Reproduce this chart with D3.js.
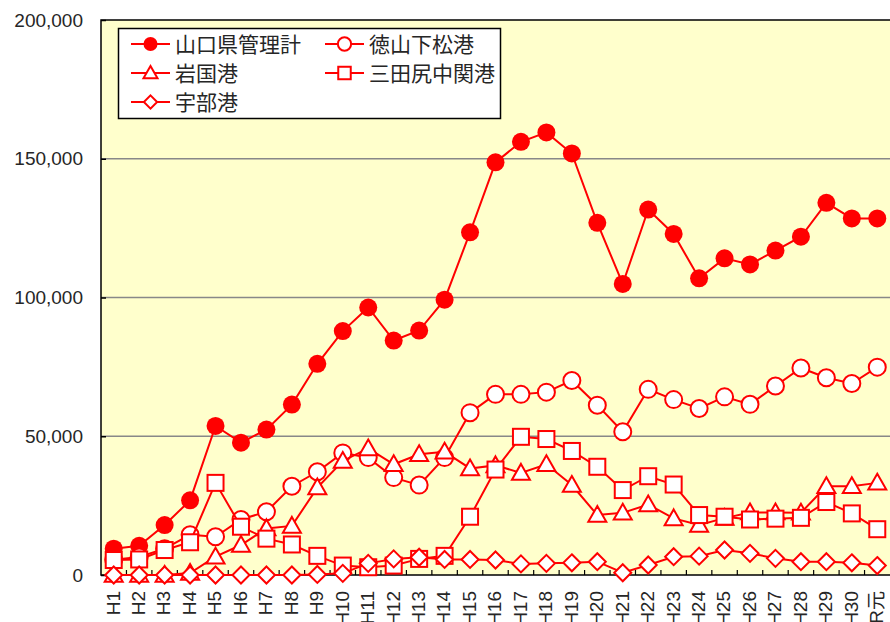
<!DOCTYPE html>
<html lang="ja">
<head>
<meta charset="UTF-8">
<title>港湾取扱貨物量の推移</title>
<script src="https://d3js.org/d3.v7.min.js"></script>
<style>
  body { margin: 0; background: #ffffff; }
  text { font-family: "Liberation Sans", "Noto Sans CJK JP", sans-serif; fill: #262626; }
  .legend text { font-family: "Noto Sans CJK JP", sans-serif; }
</style>
</head>
<body>
<svg id="chart" width="890" height="622"></svg>
<script>
// categories (年度)
const years = ["H1","H2","H3","H4","H5","H6","H7","H8","H9","H10","H11","H12","H13","H14","H15",
  "H16","H17","H18","H19","H20","H21","H22","H23","H24","H25","H26","H27","H28","H29","H30","R元"];

// values
const yamaguchiTotal = [9500,10500,18000,26900,53700,47700,52400,61400,76100,87900,96400,84500,88100,99200,123500,
  148700,156100,159500,151900,126900,104900,131700,122900,106900,114100,111900,116900,121900,134100,128500,128500];
const tokuyama = [5500,6500,9500,14500,13800,20000,22800,32000,37200,44000,42300,35100,32400,42300,58500,
  65100,65100,65900,70100,61200,51600,66900,63200,60000,64200,61500,68100,74600,71100,69000,74900];
const iwakuni = [0,0,0,700,6600,10800,16800,17700,31500,41100,45600,39900,43500,44400,38400,
  39500,36800,39900,32400,21600,22400,25400,20400,18000,20500,22500,22500,22400,32000,32000,33200];
const mitajiri = [5400,5600,9000,11800,33200,17400,13100,11000,6900,3400,2800,3400,5800,6900,21000,
  38000,49800,49000,44700,39000,30600,35600,32600,21600,21000,20000,20300,20600,26300,22200,16500];
const ube = [0,0,0,0,0,0,0,0,200,600,4200,5800,6400,5600,5600,
  5400,4000,4200,4400,4800,800,3600,6600,6800,9000,7800,6000,4800,4800,4400,3400];

const seriesNames = ["山口県管理計","徳山下松港","岩国港","三田尻中関港","宇部港"];
const yTicks = [0,50000,100000,150000,200000];

const series = [
  {name: seriesNames[0], values: yamaguchiTotal, shape: "dot"},
  {name: seriesNames[1], values: tokuyama, shape: "circle"},
  {name: seriesNames[2], values: iwakuni, shape: "triangle"},
  {name: seriesNames[3], values: mitajiri, shape: "square"},
  {name: seriesNames[4], values: ube, shape: "diamond"}
];

const red = "#ff0000";
const svg = d3.select("#chart");
const plotL = 101, plotR = 890, plotT = 20, plotB = 575;

const x = d3.scaleBand().domain(years).range([plotL, plotR]);
const y = d3.scaleLinear().domain([0, 200000]).range([plotB, plotT]);

// plot background
svg.append("rect")
  .attr("x", plotL).attr("y", plotT)
  .attr("width", plotR - plotL).attr("height", plotB - plotT)
  .attr("fill", "#ffffcc");

// gridlines
svg.append("g")
  .selectAll("line")
  .data(yTicks.filter(d => d > 0 && d < 200000))
  .join("line")
  .attr("x1", plotL).attr("x2", plotR)
  .attr("y1", d => y(d)).attr("y2", d => y(d))
  .attr("stroke", "#888888").attr("stroke-width", 1.5);

// frame: top, left, bottom
svg.append("path")
  .attr("d", `M${plotR},${plotT}H${plotL}V${plotB}H${plotR}`)
  .attr("fill", "none").attr("stroke", "#000").attr("stroke-width", 1.5);

// y axis
const yAxis = svg.append("g")
  .attr("transform", `translate(${plotL},0)`)
  .call(d3.axisRight(y).tickValues(yTicks).tickSize(5).tickFormat(""));
yAxis.select(".domain").remove();
yAxis.selectAll("line").attr("stroke", "#000").attr("stroke-width", 1.5);

svg.append("g")
  .selectAll("text")
  .data(yTicks)
  .join("text")
  .attr("x", 83).attr("y", d => y(d))
  .attr("dy", "0.35em")
  .attr("text-anchor", "end")
  .attr("font-size", 19)
  .text(d3.format(","));

// x axis ticks at category boundaries
svg.append("g")
  .selectAll("line")
  .data(years.slice(1))
  .join("line")
  .attr("x1", d => x(d)).attr("x2", d => x(d))
  .attr("y1", plotB).attr("y2", plotB - 5)
  .attr("stroke", "#000").attr("stroke-width", 1.2);

svg.append("g")
  .selectAll("text")
  .data(years)
  .join("text")
  .attr("transform", d => `translate(${x(d) + x.bandwidth() / 2 - 1},591) rotate(-90)`)
  .attr("dy", "0.36em")
  .attr("text-anchor", "end")
  .attr("font-size", 19)
  .text(d => d);

// marker drawing
function drawMarker(g, shape, s) {
  if (shape === "dot") {
    g.append("circle").attr("r", 9 * s).attr("fill", red);
  } else if (shape === "circle") {
    g.append("circle").attr("r", 8.5 * s).attr("fill", "#fff").attr("stroke", red).attr("stroke-width", 2);
  } else if (shape === "triangle") {
    const h = 9 * s;
    g.append("path").attr("d", `M0,${-h}L${h},${h * 0.75}L${-h},${h * 0.75}Z`)
      .attr("fill", "#fff").attr("stroke", red).attr("stroke-width", 2);
  } else if (shape === "square") {
    const h = 8 * s;
    g.append("rect").attr("x", -h).attr("y", -h).attr("width", 2 * h).attr("height", 2 * h)
      .attr("fill", "#fff").attr("stroke", red).attr("stroke-width", 2);
  } else if (shape === "diamond") {
    const h = 8.5 * s;
    g.append("path").attr("d", `M0,${-h}L${h},0L0,${h}L${-h},0Z`)
      .attr("fill", "#fff").attr("stroke", red).attr("stroke-width", 2);
  }
}

const line = d3.line()
  .x((d, i) => x(years[i]) + x.bandwidth() / 2)
  .y(d => y(d));

series.forEach(s => {
  const g = svg.append("g");
  g.append("path")
    .attr("d", line(s.values))
    .attr("fill", "none").attr("stroke", red).attr("stroke-width", 2);
  g.selectAll("g")
    .data(s.values)
    .join("g")
    .attr("transform", (d, i) => `translate(${x(years[i]) + x.bandwidth() / 2},${y(d)})`)
    .each(function() { drawMarker(d3.select(this), s.shape, 1); });
});

// legend
const legend = svg.append("g").attr("class", "legend");
legend.append("rect")
  .attr("x", 118.5).attr("y", 28.5).attr("width", 382).attr("height", 90)
  .attr("fill", "#fff").attr("stroke", "#000").attr("stroke-width", 1.5);

series.forEach((s, i) => {
  const col = i % 2, row = Math.floor(i / 2);
  const lx = 131 + col * 194, ly = 44 + row * 29;
  const g = legend.append("g").attr("transform", `translate(${lx},${ly})`);
  g.append("line").attr("x1", 0).attr("x2", 39).attr("y1", 0).attr("y2", 0)
    .attr("stroke", red).attr("stroke-width", 2);
  const m = g.append("g").attr("transform", "translate(19.5,0)");
  drawMarker(m, s.shape, 0.78);
  g.append("text").attr("x", 44).attr("dy", "0.36em")
    .attr("font-size", 21).text(s.name);
});
</script>
</body>
</html>
